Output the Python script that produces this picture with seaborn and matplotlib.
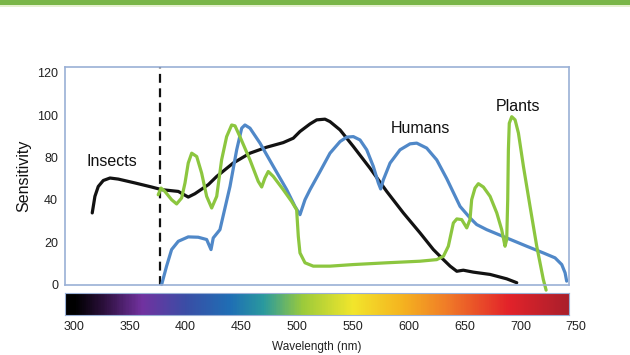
import numpy as np
import pandas as pd
import matplotlib
matplotlib.use("Agg")
import matplotlib.pyplot as plt
from matplotlib.colors import LinearSegmentedColormap
from matplotlib.patches import Rectangle
import seaborn as sns

# ---------------- data ----------------
insects_wl = [316.4, 318.8, 321.8, 326.3, 332.3, 339.7, 354.7, 369.6, 378.6, 393.5, 402.4,
              408.4, 420.3, 427.9, 442.7, 457.7, 472.7, 487.5, 496.5, 502.5, 511.5, 517.5,
              524.9, 529.4, 538.4, 550.3, 565.2, 580.2, 595.1, 610, 622, 631, 637, 643,
              648.8, 657.8, 672.8, 687.7, 696.7]
insects_s = [40.6, 50, 55.6, 59, 60.4, 59.8, 57.6, 55.3, 53.8, 52.8, 49.6,
             51.5, 56.6, 61.3, 68.9, 74.5, 77.9, 80.5, 83, 86.8, 91.1, 93.4,
             93.8, 92.4, 87.7, 78.3, 66, 52.8, 40.6, 29.3, 19.8, 14.1, 10.4, 7.5,
             8.1, 7.0, 5.7, 3.2, 1.0]

humans_wl = [378.6, 383, 387.5, 393.5, 402.4, 411.4, 418.9, 422.8, 424.8, 430.8, 439.8,
             445.8, 450.3, 453.2, 457.7, 466.7, 478.6, 490.6, 498, 502.5, 507, 511.5,
             520.4, 529.4, 538.4, 544.4, 550.3, 556.3, 562.3, 568.2, 572.7, 574.8, 577.2,
             583.2, 592.1, 601.1, 607.1, 616, 625, 634, 645.9, 654.9, 660.8, 669.8,
             687.7, 705.6, 720.5, 731, 737, 740, 741.4]
humans_s = [0.0, 10.4, 19.8, 24.5, 27.0, 26.8, 25.5, 19.8, 26.4, 31.1, 55.6,
            76.4, 88.7, 90.5, 88.7, 80.2, 67, 53.8, 44.3, 39.6, 48.1, 53.8,
            64, 74.5, 81.1, 83.6, 83.9, 82, 76.4, 67, 57.6, 54.2, 59.4,
            68.9, 76.4, 79.8, 80.2, 77.4, 70.7, 60, 44.3, 37.7, 34, 31.1,
            26.4, 21.7, 17.9, 15.1, 11.3, 6.6, 1.9]

plants_wl = [375.5, 378, 381.5, 387.5, 392, 396.5, 399.5, 402.4, 405.5, 410, 414.4,
             418.9, 423.4, 427.9, 432.3, 436.8, 441.3, 444.3, 448.7, 457.7, 465.1,
             468.2, 471.1, 474.1, 478.6, 487.5, 495, 499.5, 501, 502.5, 507, 514.4,
             529.4, 550.3, 580.2, 610, 625, 631, 635.4, 639.9, 643, 647.4, 651.9,
             654.8, 656.3, 659.3, 662.3, 666.8, 672.8, 678.8, 683.2, 686.2, 687.7,
             688.6, 689.2, 690, 692.2, 695.2, 698.2, 702.7, 708.6, 714.6, 720.5, 723]
plants_s = [50.9, 54.7, 52.8, 48.1, 45.7, 49.1, 57.6, 68.9, 74.5, 72.6, 63.2,
            50, 43.4, 50, 70.7, 83.9, 90.5, 90, 83.9, 70.7, 58.5,
            55.3, 60.4, 64.1, 61.3, 53.8, 47.1, 42.4, 27.3, 17.9, 12.3, 10.4,
            10.4, 11.3, 12.3, 13.2, 14.1, 16, 21.7, 34.9, 37.2, 36.8, 32.1,
            36.8, 48.1, 54.7, 57.2, 55.3, 50, 40.6, 31.1, 21.7, 25.5,
            48.1, 76.4, 91.5, 95.2, 93.4, 85.9, 66.9, 44.3, 21.7, 2.8, -3.2]

ytick_pos = [0, 24, 48, 72, 96, 120]
ytick_labels = ["0", "20", "40", "80", "100", "120"]
xtick_vals = [300, 350, 400, 450, 500, 550, 600, 650, 700, 750]
cutoff_wl = 377

spectrum_stops = [300, 325, 360, 400, 440, 470, 505, 550, 595, 635, 690, 745]
spectrum_colors = ["#000000", "#2a0f3a", "#7232a0", "#3a4ea6", "#1f6fb5", "#2a9a9e",
                   "#9ccb3b", "#f2e62c", "#f5b320", "#f07b28", "#e3232a", "#a91f2c"]

labels = [("Insects", 334, 69.8), ("Humans", 610, 88.3), ("Plants", 698, 101.0)]

# ---------------- figure ----------------
sns.set_theme(style="white")
plt.rcParams["font.family"] = ["Liberation Sans", "DejaVu Sans"]

W, H = 630, 355
fig = plt.figure(figsize=(W / 100, H / 100), dpi=100)
fig.patch.set_facecolor("white")

# top green band
fig.patches.append(Rectangle((0, 1 - 5 / H), 1, 5 / H, transform=fig.transFigure,
                             facecolor="#7ab648", edgecolor="none"))
fig.patches.append(Rectangle((0, 1 - 7 / H), 1, 2 / H, transform=fig.transFigure,
                             facecolor="#e6f0d0", edgecolor="none"))

x0, x1 = 65, 569
XLIM = (292.0, 743.5)
ax = fig.add_axes([x0 / W, (H - 285) / H, (x1 - x0) / W, (285 - 67) / H])

df = pd.concat([
    pd.DataFrame({"wl": insects_wl, "s": insects_s, "g": "Insects"}),
    pd.DataFrame({"wl": humans_wl, "s": humans_s, "g": "Humans"}),
    pd.DataFrame({"wl": plants_wl, "s": plants_s, "g": "Plants"}),
])
pal = {"Insects": "#121212", "Humans": "#5088c8", "Plants": "#8cc63f"}
sns.lineplot(data=df, x="wl", y="s", hue="g", units="g", estimator=None, sort=False,
             palette=pal, linewidth=2.3, legend=False, ax=ax)
for ln in ax.lines:
    ln.set_clip_on(False)
    ln.set_solid_capstyle("round")
    ln.set_solid_joinstyle("round")

ax.axvline(cutoff_wl, color="#111111", lw=1.6, ls=(0, (4, 2.5)), zorder=1)

ax.set_xlim(*XLIM)
ax.set_ylim(-0.3, 123.4)
ax.set_xticks([])
ax.set_yticks(ytick_pos)
ax.set_yticklabels(ytick_labels, fontsize=9, color="#222222")
ax.tick_params(axis="y", length=0, pad=5)
ax.set_xlabel("")
ax.set_ylabel("Sensitivity", fontsize=11.5, color="#111111", labelpad=4)
for sp in ax.spines.values():
    sp.set_color("#9ab0d6")
    sp.set_linewidth(1.2)

for name, xw, yv in labels:
    ax.text(xw, yv, name, fontsize=11.5, ha="center", va="center", color="#111111")

# spectrum bar
cax = fig.add_axes([x0 / W, (H - 315) / H, (x1 - x0) / W, (315 - 293) / H])
span = spectrum_stops[-1] - spectrum_stops[0]
cmap = LinearSegmentedColormap.from_list(
    "spec", [((s - spectrum_stops[0]) / span, c) for s, c in zip(spectrum_stops, spectrum_colors)])
grad = np.linspace(XLIM[0], XLIM[1], 600)[None, :]
cax.imshow(grad, aspect="auto", cmap=cmap, vmin=spectrum_stops[0], vmax=spectrum_stops[-1],
           extent=[XLIM[0], XLIM[1], 0, 1])
cax.set_xlim(*XLIM)
cax.set_ylim(0, 1)
cax.set_xticks([])
cax.set_yticks([])
for sp in cax.spines.values():
    sp.set_color("#9ab0d6")
    sp.set_linewidth(0.8)

for v in xtick_vals:
    cax.text(v, -0.55, str(v), transform=cax.get_xaxis_transform(), ha="center", va="center",
             fontsize=9, color="#222222", clip_on=False)
fig.text((x0 + x1) / 2 / W, 1 - 347 / H, "Wavelength (nm)", ha="center", va="center",
         fontsize=8.5, color="#222222")

fig.savefig("out.png", dpi=100)
